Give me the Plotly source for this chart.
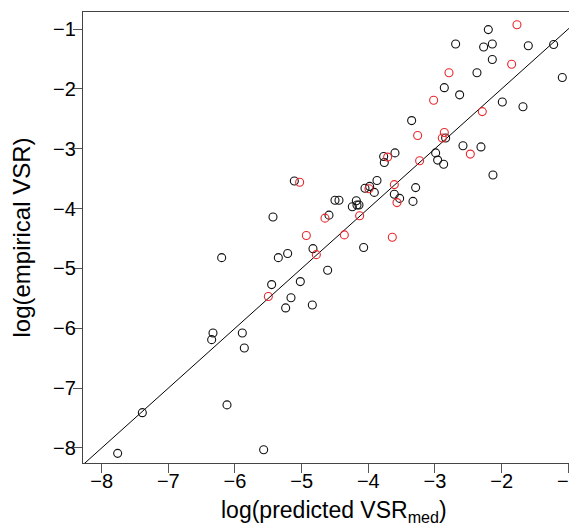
import plotly.graph_objects as go

# black points (other)
black_x = [-2.20, -2.69, -2.27, -2.14, -1.60, -1.22, -2.14, -2.37, -1.09, -2.86,
           -2.63, -1.99, -1.68, -3.35, -2.84, -2.58, -2.31, -2.99, -2.96, -2.87,
           -2.13, -3.77, -3.60, -3.76, -5.11, -3.87, -4.05, -3.98, -3.91, -3.29,
           -3.61, -3.53, -3.33, -4.50, -4.44, -4.18, -4.24, -4.17, -4.14, -4.59,
           -4.83, -5.21, -5.35, -4.07, -4.61, -5.43, -6.20, -5.45, -5.16, -5.24,
           -5.02, -4.84, -6.33, -6.35, -5.89, -5.86, -6.12, -7.39, -7.76, -5.57]
black_y = [-1.01, -1.25, -1.30, -1.25, -1.28, -1.26, -1.51, -1.73, -1.81, -1.98,
           -2.10, -2.22, -2.30, -2.53, -2.82, -2.95, -2.97, -3.07, -3.19, -3.26,
           -3.44, -3.13, -3.07, -3.23, -3.54, -3.53, -3.66, -3.63, -3.73, -3.65,
           -3.76, -3.83, -3.88, -3.86, -3.86, -3.87, -3.97, -3.94, -3.94, -4.11,
           -4.67, -4.75, -4.82, -4.65, -5.03, -4.14, -4.82, -5.27, -5.49, -5.66,
           -5.22, -5.61, -6.08, -6.19, -6.08, -6.33, -7.28, -7.41, -8.09, -8.03]

# red points (highlighted)
red_x = [-1.77, -1.85, -2.79, -3.02, -2.29, -3.26, -2.86, -2.89, -2.47, -3.23,
         -3.71, -5.03, -3.61, -3.99, -3.57, -4.13, -4.65, -4.93, -4.36, -3.64,
         -4.78, -5.50]
red_y = [-0.93, -1.59, -1.73, -2.19, -2.38, -2.78, -2.73, -2.82, -3.09, -3.20,
         -3.14, -3.56, -3.60, -3.67, -3.90, -4.12, -4.16, -4.45, -4.44, -4.48,
         -4.77, -5.47]

ticks = [-8, -7, -6, -5, -4, -3, -2, -1]
diag = [-9, 0]

FONT = "Liberation Sans, Arial, Helvetica, sans-serif"

fig = go.Figure()
fig.add_trace(go.Scatter(x=diag, y=diag, mode="lines",
                         line=dict(color="black", width=1), hoverinfo="skip"))
fig.add_trace(go.Scatter(x=black_x, y=black_y, mode="markers",
                         marker=dict(symbol="circle-open", size=8, color="#111111",
                                     line=dict(width=1.1))))
fig.add_trace(go.Scatter(x=red_x, y=red_y, mode="markers",
                         marker=dict(symbol="circle-open", size=8, color="#e8262b",
                                     line=dict(width=1.1))))

axis_common = dict(
    tickvals=ticks,
    showgrid=False, zeroline=False, automargin=False,
    showline=True, linecolor="#444444", linewidth=1.3,
    ticks="outside", ticklen=9, tickwidth=1, tickcolor="#555555",
    ticklabeloverflow="allow",
    tickfont=dict(family=FONT, size=20, color="black"),
)

# the page body adds an 8px margin, so the figure is made 8px smaller
fig.update_layout(
    width=569, height=522,
    margin=dict(l=75, r=0, t=4, b=67),
    paper_bgcolor="white", plot_bgcolor="white",
    showlegend=False,
    xaxis=dict(range=[-8.28, -0.8695], mirror=True, ticklabelstandoff=-9,
               **axis_common),
    yaxis=dict(range=[-8.251, -0.716], mirror=False, ticklabelstandoff=-7,
               **axis_common),
    annotations=[
        dict(text="log(predicted VSR<sub>med</sub>)", xref="paper", yref="paper",
             x=0.509, y=0, xanchor="center", yanchor="middle", yshift=-48,
             showarrow=False, font=dict(family=FONT, size=23, color="black")),
        dict(text="log(empirical VSR)", xref="paper", yref="paper",
             x=0, y=0.5, xanchor="center", yanchor="middle", xshift=-62,
             textangle=-90, showarrow=False,
             font=dict(family=FONT, size=24, color="black")),
    ],
)

fig.write_html("out.html")
